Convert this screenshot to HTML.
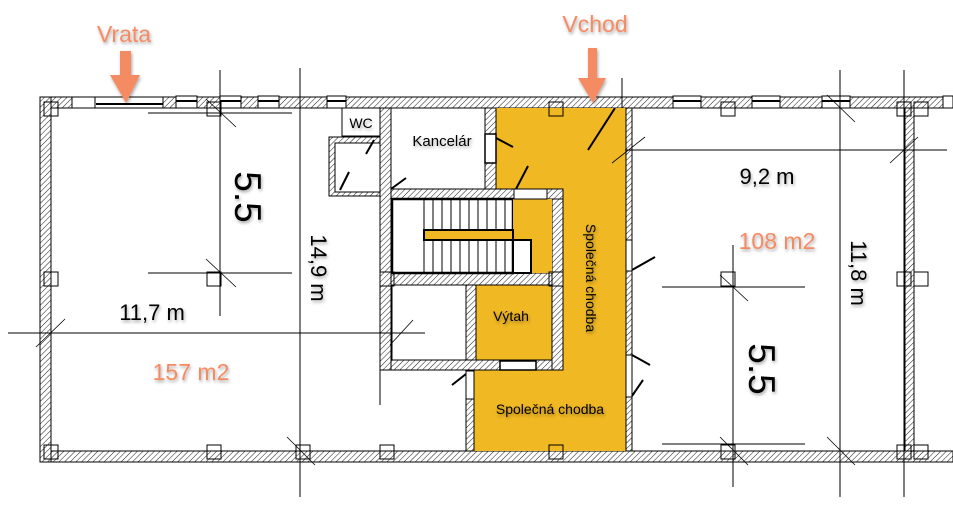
<!DOCTYPE html>
<html><head><meta charset="utf-8"><style>
html,body{margin:0;padding:0;background:#fff}
svg{display:block}
text{font-family:"Liberation Sans",sans-serif}
</style></head><body>
<svg width="953" height="517" viewBox="0 0 953 517" xmlns="http://www.w3.org/2000/svg">
<defs>
<pattern id="h" width="4" height="4" patternUnits="userSpaceOnUse" patternTransform="rotate(45)">
<rect width="4" height="4" fill="#fff"/><line x1="0" y1="0" x2="0" y2="4" stroke="#000" stroke-width="0.9"/>
</pattern>
<filter id="sh" x="-10%" y="-10%" width="130%" height="140%"><feGaussianBlur in="SourceAlpha" stdDeviation="1.5"/><feOffset dx="1" dy="2"/><feComponentTransfer><feFuncA type="linear" slope="0.35"/></feComponentTransfer><feMerge><feMergeNode/><feMergeNode in="SourceGraphic"/></feMerge></filter>
</defs>
<g stroke="#000" stroke-width="1">
<rect x="40" y="97" width="913" height="11" fill="url(#h)"/>
<rect x="40" y="451" width="913" height="11" fill="url(#h)"/>
<rect x="40" y="97" width="11" height="365" fill="url(#h)"/>
<rect x="905" y="108" width="9" height="343" fill="url(#h)"/>
<path d="M496 108 H626 V451 H474 V370 H563 V189 H496 Z" fill="#f0b823" stroke="none"/>
<rect x="626" y="108" width="6" height="343" fill="url(#h)"/>
<line x1="496" y1="108" x2="496" y2="189"/>
<rect x="380" y="108" width="11" height="262" fill="url(#h)"/>
<rect x="485" y="108" width="11" height="81" fill="url(#h)"/>
<rect x="391" y="189" width="172" height="10" fill="url(#h)"/>
<rect x="552" y="199" width="11" height="171" fill="url(#h)"/>
<rect x="391" y="273" width="161" height="12" fill="url(#h)"/>
<rect x="466" y="285" width="10" height="85" fill="url(#h)"/>
<rect x="391" y="360" width="161" height="10" fill="url(#h)"/>
<rect x="466" y="370" width="8" height="81" fill="url(#h)"/>
<rect x="392" y="285" width="74" height="75" fill="#fff"/>
<rect x="476" y="285" width="76" height="75" fill="#f0b823"/>
<rect x="392" y="199" width="121" height="74" fill="#fff" stroke-width="2.5"/>
<rect x="513" y="199" width="39" height="74" fill="#f0b823" stroke="none"/>
<rect x="424" y="230" width="89" height="10" fill="#f0b823" stroke-width="2"/>
<g stroke-width="1">
<line x1="433" y1="199" x2="433" y2="230"/><line x1="442" y1="199" x2="442" y2="230"/><line x1="451" y1="199" x2="451" y2="230"/><line x1="460" y1="199" x2="460" y2="230"/><line x1="469" y1="199" x2="469" y2="230"/><line x1="478" y1="199" x2="478" y2="230"/><line x1="487" y1="199" x2="487" y2="230"/><line x1="496" y1="199" x2="496" y2="230"/><line x1="505" y1="199" x2="505" y2="230"/>
<line x1="433" y1="240" x2="433" y2="273"/><line x1="442" y1="240" x2="442" y2="273"/><line x1="451" y1="240" x2="451" y2="273"/><line x1="460" y1="240" x2="460" y2="273"/><line x1="469" y1="240" x2="469" y2="273"/><line x1="478" y1="240" x2="478" y2="273"/><line x1="487" y1="240" x2="487" y2="273"/><line x1="496" y1="240" x2="496" y2="273"/><line x1="505" y1="240" x2="505" y2="273"/><line x1="514" y1="240" x2="514" y2="273"/><line x1="522" y1="240" x2="522" y2="273"/>
</g>
<rect x="513" y="240" width="18" height="33" fill="#fff" stroke-width="2"/>
<line x1="424" y1="199" x2="424" y2="273"/>
<rect x="329" y="137" width="51" height="59" fill="url(#h)"/>
<rect x="335" y="143" width="45" height="49" fill="#fff"/>
<rect x="342" y="108" width="38" height="28" fill="#fff"/>
<rect x="485" y="134" width="11" height="29" fill="#fff" stroke-width="1.5"/>
<rect x="514" y="189" width="33" height="10" fill="#fff"/>
<rect x="500" y="361" width="36" height="9" fill="#fff" stroke-width="1.5"/>
<rect x="626" y="240" width="6" height="31" fill="#fff"/>
<rect x="626" y="355" width="6" height="42" fill="#fff"/>
<rect x="466" y="371" width="8" height="28" fill="#fff"/>
<g stroke-width="2">
<line x1="496" y1="138" x2="513" y2="147"/><line x1="516" y1="189" x2="528" y2="166"/>
<line x1="588" y1="150" x2="615" y2="108"/><line x1="632" y1="270" x2="655" y2="257"/>
<line x1="632" y1="355" x2="650" y2="365"/><line x1="632" y1="396" x2="643" y2="380"/>
<line x1="466" y1="374" x2="452" y2="385"/><line x1="391" y1="189" x2="406" y2="178"/>
<line x1="340" y1="190" x2="349" y2="172"/><line x1="366" y1="154" x2="374" y2="140"/>
</g>
<g fill="#fff" stroke-width="1"><rect x="72" y="97" width="51" height="11"/><rect x="95" y="97" width="68" height="11"/><rect x="176" y="96" width="21" height="12"/><rect x="220" y="96" width="21" height="12"/><rect x="258" y="96" width="21" height="12"/><rect x="327" y="96" width="19" height="12"/><rect x="673" y="96" width="28" height="12"/><rect x="752" y="96" width="28" height="12"/><rect x="822" y="96" width="28" height="12"/><rect x="943" y="96" width="10" height="12"/></g>
<g stroke-width="2"><line x1="96" y1="104" x2="163" y2="104"/><line x1="176" y1="101" x2="197" y2="101"/><line x1="220" y1="101" x2="241" y2="101"/><line x1="258" y1="101" x2="279" y2="101"/><line x1="327" y1="101" x2="346" y2="101"/><line x1="673" y1="101" x2="701" y2="101"/><line x1="752" y1="101" x2="780" y2="101"/><line x1="822" y1="101" x2="850" y2="101"/></g>
<g fill="none"><rect x="44" y="102" width="14" height="14"/><rect x="207" y="102" width="14" height="14"/><rect x="44" y="272" width="14" height="14"/><rect x="207" y="272" width="14" height="14"/><rect x="44" y="445" width="14" height="14"/><rect x="207" y="445" width="14" height="14"/><rect x="296" y="445" width="14" height="14"/><rect x="380" y="272" width="14" height="14"/><rect x="549" y="272" width="14" height="14"/><rect x="380" y="445" width="14" height="14"/><rect x="549" y="445" width="14" height="14"/><rect x="549" y="102" width="14" height="14"/><rect x="721" y="102" width="14" height="14"/><rect x="721" y="272" width="14" height="14"/><rect x="721" y="445" width="14" height="14"/><rect x="897" y="102" width="14" height="14"/><rect x="914" y="102" width="14" height="14"/><rect x="897" y="272" width="14" height="14"/><rect x="914" y="272" width="14" height="14"/><rect x="897" y="445" width="14" height="14"/><rect x="914" y="445" width="14" height="14"/></g>
<line x1="300" y1="68" x2="300" y2="497"/><line x1="220" y1="70" x2="220" y2="316"/>
<line x1="8" y1="333" x2="425" y2="333"/><line x1="148" y1="113" x2="292" y2="113"/><line x1="148" y1="273" x2="292" y2="273"/>
<line x1="625" y1="150" x2="947" y2="150"/><line x1="840" y1="70" x2="840" y2="497"/><line x1="733" y1="245" x2="733" y2="487"/>
<line x1="662" y1="287" x2="805" y2="287"/><line x1="662" y1="444" x2="805" y2="444"/><line x1="904" y1="70" x2="904" y2="497"/>
<line x1="380" y1="290" x2="380" y2="405"/><line x1="622" y1="78" x2="622" y2="108"/>
</g>
<g stroke="#000" stroke-width="0.8">
<line x1="206" y1="259" x2="236" y2="287"/><line x1="206" y1="99" x2="236" y2="127"/><line x1="36" y1="347" x2="65" y2="319"/>
<line x1="390" y1="345" x2="413" y2="320"/><line x1="287" y1="437" x2="315" y2="465"/><line x1="720" y1="275" x2="748" y2="301"/><line x1="720" y1="437" x2="748" y2="465"/><line x1="827" y1="437" x2="855" y2="465"/><line x1="890" y1="163" x2="918" y2="137"/><line x1="612" y1="163" x2="645" y2="137"/><line x1="827" y1="95" x2="855" y2="122"/>
</g>
<g fill="#f48b63" filter="url(#sh)">
<path d="M120 51 H131 V75 H140 L126 103 L110 75 H120 Z"/>
<path d="M588 48 H597 V78 H606 L593 103 L578 78 H588 Z"/>
</g>
<g filter="url(#sh)">
<text x="124" y="42" font-size="23" fill="#f48b63" text-anchor="middle">Vrata</text>
<text x="595" y="32" font-size="23" fill="#f48b63" text-anchor="middle">Vchod</text>
<text x="152" y="320" font-size="22" text-anchor="middle">11,7 m</text>
<text x="191" y="380" font-size="23" fill="#f48b63" text-anchor="middle">157 m2</text>
<text x="767" y="184" font-size="22" text-anchor="middle">9,2 m</text>
<text x="777" y="249" font-size="23" fill="#f48b63" text-anchor="middle">108 m2</text>
<text transform="translate(235,197) rotate(90)" font-size="37" text-anchor="middle">5.5</text>
<text transform="translate(749,369) rotate(90)" font-size="37" text-anchor="middle">5.5</text>
<text transform="translate(311,268) rotate(90)" font-size="22" text-anchor="middle">14,9 m</text>
<text transform="translate(851,273) rotate(90)" font-size="22" text-anchor="middle">11,8 m</text>
<text x="361" y="128" font-size="14" text-anchor="middle">WC</text>
<text x="442" y="146" font-size="15" text-anchor="middle">Kancelár</text>
<text x="511" y="321" font-size="14" text-anchor="middle">Výtah</text>
<text x="550" y="414" font-size="14" text-anchor="middle">Společná chodba</text>
<text transform="translate(586,278) rotate(90)" font-size="14" text-anchor="middle">Společná chodba</text>
</g>
</svg>
</body></html>
